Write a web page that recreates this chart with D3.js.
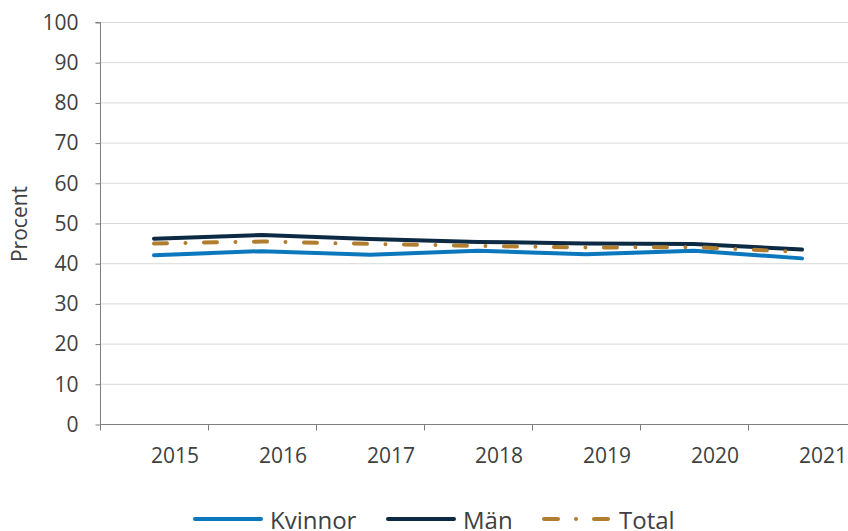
<!DOCTYPE html>
<html>
<head>
<meta charset="utf-8">
<script src="https://cdn.jsdelivr.net/npm/d3@7"></script>
<style>
  body { margin: 0; background: #fff; }
  svg { display: block; font-family: 'Open Sans', sans-serif; }
</style>
</head>
<body>
<svg id="chart" width="848" height="531"></svg>
<script>
const years = ['2015', '2016', '2017', '2018', '2019', '2020', '2021'];
const kvinnor = [42.0, 43.0, 42.1, 43.1, 42.2, 43.1, 41.2];
const man = [46.1, 47.0, 46.0, 45.3, 44.9, 44.8, 43.4];
const total = [44.9, 45.4, 44.8, 44.3, 43.9, 44.0, 42.8];
const yTicks = [0, 10, 20, 30, 40, 50, 60, 70, 80, 90, 100];

const series = [
  { name: 'Kvinnor', values: kvinnor, colour: '#0b78bd', dash: null },
  { name: 'Män', values: man, colour: '#0d2a44', dash: null },
  { name: 'Total', values: total, colour: '#b17d2f', dash: '13,18.5,0,18.5' }
];

const svg = d3.select('#chart');
const plotLeft = 100;
const plotTop = 22;
const plotBottom = 424;
const textColour = '#404040';

const x = d3.scaleBand().domain(years).range([plotLeft, 856]).padding(0);
const y = d3.scaleLinear().domain([0, 100]).range([plotBottom, plotTop]);

// gridlines
svg.append('g')
  .selectAll('line')
  .data(yTicks.filter(d => d > 0))
  .enter()
  .append('line')
  .attr('x1', plotLeft)
  .attr('x2', 848)
  .attr('y1', d => y(d) + 0.5)
  .attr('y2', d => y(d) + 0.5)
  .attr('stroke', '#d9d9d9')
  .attr('stroke-width', 1);

// y axis
const yAxis = svg.append('g')
  .attr('transform', `translate(${plotLeft + 0.5},0.5)`)
  .call(d3.axisLeft(y).tickValues(yTicks).tickSize(5).tickPadding(17));
yAxis.select('.domain').attr('stroke', '#7f7f7f').attr('d', `M-5,${plotTop}H0V${plotBottom}`);
yAxis.selectAll('.tick line').attr('stroke', '#7f7f7f');
yAxis.selectAll('.tick text')
  .attr('fill', textColour)
  .attr('font-size', 21)
  .attr('font-family', "'Open Sans', sans-serif");

// x axis
const xAxis = svg.append('g')
  .attr('transform', `translate(0,${plotBottom + 0.5})`);
xAxis.append('line')
  .attr('x1', plotLeft)
  .attr('x2', 848)
  .attr('stroke', '#7f7f7f');
xAxis.selectAll('line.tick')
  .data(years)
  .enter()
  .append('line')
  .attr('class', 'tick')
  .attr('x1', d => x(d) + 0.5)
  .attr('x2', d => x(d) + 0.5)
  .attr('y1', 0)
  .attr('y2', 6)
  .attr('stroke', '#7f7f7f');
xAxis.selectAll('text')
  .data(years)
  .enter()
  .append('text')
  .attr('x', d => x(d) + x.bandwidth() / 2 + 21)
  .attr('y', 38)
  .attr('text-anchor', 'middle')
  .attr('fill', textColour)
  .attr('font-size', 21)
  .text(d => d);

// y title
svg.append('text')
  .attr('transform', 'translate(27,224) rotate(-90)')
  .attr('text-anchor', 'middle')
  .attr('fill', textColour)
  .attr('font-size', 21)
  .text('Procent');

// lines
const line = d3.line()
  .x((d, i) => x(years[i]) + x.bandwidth() / 2)
  .y(d => y(d));

svg.append('g')
  .selectAll('path')
  .data(series)
  .enter()
  .append('path')
  .attr('d', d => line(d.values))
  .attr('fill', 'none')
  .attr('stroke', d => d.colour)
  .attr('stroke-width', 4)
  .attr('stroke-linecap', 'round')
  .attr('stroke-linejoin', 'round')
  .attr('stroke-dasharray', d => d.dash);

// legend
const legendX = [193, 386, 542];
const legendText = [270, 463, 619];
const legend = svg.append('g')
  .selectAll('g')
  .data(series)
  .enter()
  .append('g');
legend.append('line')
  .attr('x1', (d, i) => legendX[i] + 2)
  .attr('x2', (d, i) => legendX[i] + 68)
  .attr('y1', 519)
  .attr('y2', 519)
  .attr('stroke', d => d.colour)
  .attr('stroke-width', 4)
  .attr('stroke-linecap', 'round')
  .attr('stroke-dasharray', d => (d.dash ? '14,18,0,18,14' : null));
legend.append('text')
  .attr('x', (d, i) => legendText[i])
  .attr('y', 529)
  .attr('fill', textColour)
  .attr('font-size', 24)
  .text(d => d.name);
</script>
</body>
</html>
